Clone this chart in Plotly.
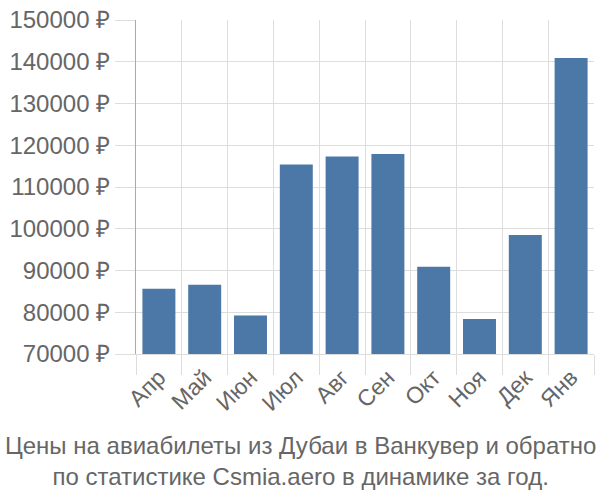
import plotly.graph_objects as go

months = ["Апр", "Май", "Июн", "Июл", "Авг", "Сен", "Окт", "Ноя", "Дек", "Янв"]
prices = [85600, 86600, 79200, 115400, 117300, 117900, 90900, 78400, 98500, 140900]
y_ticks = [70000, 80000, 90000, 100000, 110000, 120000, 130000, 140000, 150000]
y_tick_labels = [f"{v} ₽" for v in y_ticks]
title_lines = ["Цены на авиабилеты из Дубаи в Ванкувер и обратно",
               "по статистике Csmia.aero в динамике за год."]

fig = go.Figure(go.Bar(x=months, y=prices, marker_color="#4c78a8",
                       marker_line_width=0, width=0.72))

font = dict(family="Liberation Sans, Arial, sans-serif", color="#666666")

fig.update_layout(
    width=600, height=500,
    margin=dict(l=136, r=6, t=14, b=146),
    plot_bgcolor="white", paper_bgcolor="white",
    showlegend=False,
    font=font,
    xaxis=dict(tickson="boundaries", showgrid=True, gridcolor="#dddddd", gridwidth=1,
               ticks="outside", ticklen=20, tickcolor="#dddddd",
               tickangle=-45, tickfont=dict(size=23),
               showline=True, linecolor="#dddddd", mirror=False),
    yaxis=dict(range=[70000, 150000], tickvals=y_ticks, ticktext=y_tick_labels,
               showgrid=True, gridcolor="#dddddd", gridwidth=1,
               ticks="outside", ticklen=20, tickcolor="#dddddd",
               tickfont=dict(size=24), showline=True, linecolor="#aaaaaa",
               zeroline=False),
    annotations=[dict(text="<br>".join(title_lines), x=0.5, xref="paper",
                      y=0, yref="paper", yshift=-76, yanchor="top",
                      xanchor="center", showarrow=False,
                      font=dict(size=24, color="#666666"), xshift=-136/2+3)],
)
fig.write_html("out.html")
